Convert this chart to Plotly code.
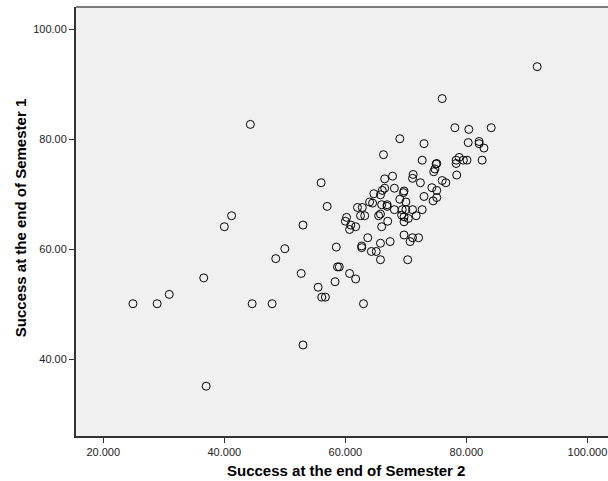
import plotly.graph_objects as go

# Success at the end of Semester 2 (x) and Semester 1 (y)
semester2 = [
    91.7, 76.0, 78.1, 80.4, 84.1, 44.3, 69.0, 73.0, 80.3, 82.1,
    82.1, 82.9, 66.3, 72.7, 75.1, 75.0, 78.8, 78.3, 78.3, 79.5,
    80.1, 82.6, 74.8, 74.6, 78.4, 71.2, 71.1, 67.8, 66.5, 72.4,
    76.0, 76.6, 56.0, 74.3, 75.1, 68.1, 66.5, 66.1, 64.7, 65.8,
    69.7, 69.6, 73.0, 75.1, 74.5, 69.0, 70.0, 64.0, 64.5, 66.0,
    66.9, 66.9, 57.0, 62.0, 62.8, 68.1, 69.4, 70.0, 71.1, 72.7,
    60.2, 60.0, 62.5, 63.2, 65.5, 65.8, 69.3, 69.7, 70.4, 71.7,
    67.0, 69.7, 60.9, 61.7, 60.7, 66.0, 53.0, 69.7, 71.1, 70.7,
    72.1, 63.7, 67.4, 65.8, 62.7, 62.7, 58.5, 50.0, 64.3, 65.1,
    65.8, 70.3, 58.7, 59.0, 52.7, 60.7, 61.7, 58.3, 55.5, 56.1,
    56.7, 63.0, 53.0, 48.5, 41.2, 40.0, 36.6, 30.9, 24.9, 28.9,
    44.6, 47.9, 37.0,
]
semester1 = [
    93.2, 87.4, 82.1, 81.8, 82.1, 82.7, 80.1, 79.2, 79.4, 79.6,
    79.2, 78.4, 77.2, 76.2, 75.6, 75.5, 76.7, 76.2, 75.6, 76.2,
    76.2, 76.2, 74.6, 74.1, 73.5, 73.6, 72.9, 73.3, 72.8, 72.1,
    72.5, 72.1, 72.1, 71.2, 70.7, 71.1, 71.1, 70.7, 70.1, 69.9,
    70.6, 70.3, 69.6, 69.4, 68.8, 69.1, 68.6, 68.6, 68.4, 68.1,
    68.1, 67.8, 67.8, 67.6, 67.6, 67.2, 67.2, 67.2, 67.2, 67.2,
    65.8, 65.1, 66.1, 66.1, 66.1, 66.4, 66.2, 65.9, 65.6, 66.1,
    65.1, 65.0, 64.4, 64.1, 63.6, 64.1, 64.4, 62.6, 62.1, 61.4,
    62.1, 62.1, 61.4, 61.1, 60.6, 60.3, 60.4, 60.1, 59.6, 59.6,
    58.1, 58.1, 56.8, 56.8, 55.6, 55.6, 54.6, 54.1, 53.1, 51.3,
    51.3, 50.1, 42.6, 58.3, 66.1, 64.1, 54.8, 51.8, 50.1, 50.1,
    50.1, 50.1, 35.1,
]

x_ticks = [20, 40, 60, 80, 100]
x_ticktext = ["20.000", "40.000", "60.000", "80.000", "100.000"]
y_ticks = [40, 60, 80, 100]
y_ticktext = ["40.00", "60.00", "80.00", "100.00"]
x_title = "Success at the end of Semester 2"
y_title = "Success at the end of Semester 1"

fig = go.Figure()
fig.add_trace(go.Scatter(
    x=semester2, y=semester1, mode="markers",
    marker=dict(symbol="circle-open", size=8, color="black", line=dict(width=1)),
    showlegend=False, hoverinfo="x+y",
))

font = "Liberation Sans, Arial, sans-serif"
axis_common = dict(
    showgrid=False, zeroline=False, showline=True, linecolor="#333333", linewidth=2,
    ticks="outside", ticklen=5, tickcolor="#333333", tickwidth=1,
    tickfont=dict(size=11, color="#222222"), automargin=False,
)
fig.update_layout(
    width=608, height=481,
    margin=dict(l=76, r=0, t=7, b=45),
    paper_bgcolor="white",
    plot_bgcolor="#F0F0F0",
    font=dict(family=font, size=11, color="#222222"),
    xaxis=dict(range=[15.49, 103.4], tickvals=x_ticks, ticktext=x_ticktext, **axis_common),
    yaxis=dict(range=[26.05, 104.05], tickvals=y_ticks, ticktext=y_ticktext, **axis_common),
    shapes=[dict(type="line", xref="paper", yref="paper", x0=0, x1=1, y0=1, y1=1,
                 line=dict(color="#555555", width=1.5))],
    annotations=[
        dict(text="<b>" + x_title + "</b>", xref="paper", yref="paper",
             x=0.5066, y=-0.0793, xanchor="center", yanchor="middle", showarrow=False,
             font=dict(size=15, color="black", family=font)),
        dict(text="<b>" + y_title + "</b>", xref="paper", yref="paper",
             x=-0.105, y=0.508, xanchor="center", yanchor="middle", showarrow=False,
             textangle=-90, font=dict(size=15, color="black", family=font)),
    ],
)

fig.write_html(
    "out.html",
    config={"displayModeBar": False},
    post_script="document.body.style.margin='0';document.body.style.overflow='hidden';",
)
